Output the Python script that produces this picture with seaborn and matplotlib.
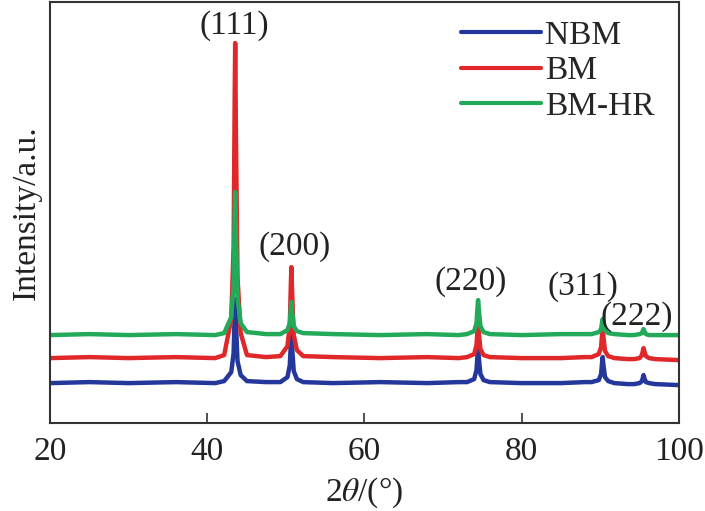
import matplotlib
matplotlib.use("Agg")
import matplotlib.pyplot as plt
import seaborn as sns
import pandas as pd

# ── Data ─────────────────────────────────────────────────────────────────────
two_theta = [20, 25, 30, 36, 41.0,
             42.15, 43.05, 43.35, 43.48, 43.55, 43.65, 43.85, 44.25, 45.05,
             47.5,
             49.3, 50.2, 50.5, 50.63, 50.7, 50.8, 51.0, 51.4, 52.2,
             56, 62, 68, 72,
             73.05, 73.95, 74.25, 74.38, 74.45, 74.55, 74.75, 75.15, 75.95,
             80, 85, 88,
             88.9, 89.8, 90.1, 90.23, 90.3, 90.4, 90.6, 91.0, 91.8,
             93.5,
             94.3, 95.0, 95.3, 95.43, 95.5, 95.6, 95.8, 96.2, 97.0,
             100]

nbm = [40, 41, 40, 41, 40,
       42, 51, 70, 107, 124, 99, 62, 48, 42,
       41,
       41, 46, 58, 80, 90, 75, 52, 44, 41,
       40, 41, 40, 41,
       41, 44, 53, 69, 76, 65, 49, 43, 41,
       40, 40, 41,
       41, 43, 49, 61, 66, 58, 46, 42, 40,
       39,
       39, 40, 42, 46, 48, 45, 41, 40, 39,
       38]

bm = [65, 66, 65, 66, 65,
      68, 104, 176, 317, 380, 286, 145, 90, 68,
      66,
      67, 77, 98, 138, 156, 129, 88, 73, 67,
      66, 65, 66, 65,
      66, 69, 78, 94, 101, 90, 74, 68, 66,
      65, 65, 66,
      66, 69, 76, 89, 95, 86, 72, 67, 65,
      64,
      64, 65, 68, 73, 75, 72, 67, 65, 64,
      63]

bm_hr = [88, 89, 88, 89, 88,
         90, 106, 139, 203, 231, 188, 125, 100, 91,
         89,
         89, 93, 100, 115, 121, 111, 97, 92, 90,
         89, 88, 89, 88,
         89, 92, 100, 116, 123, 113, 97, 91, 89,
         88, 89, 89,
         89, 91, 94, 101, 104, 100, 93, 90, 89,
         88,
         88, 89, 90, 93, 94, 92, 89, 88, 88,
         88]

samples = ["NBM", "BM", "BM-HR"]
colors = ["#24389c", "#e0282a", "#22a95a"]

peak_labels = ["(111)", "(200)", "(220)", "(311)", "(222)"]
label_x = [43.4, 51.1, 73.5, 87.8, 94.6]
label_y = [397, 176, 141, 136, 106]

df = pd.concat([
    pd.DataFrame({"two_theta": two_theta, "intensity": y, "sample": s})
    for s, y in zip(samples, [nbm, bm, bm_hr])
])

# ── Styling ──────────────────────────────────────────────────────────────────
sns.set_theme(style="ticks")
plt.rcParams["font.family"] = ["Liberation Serif", "DejaVu Serif"]
plt.rcParams["mathtext.fontset"] = "stix"

FS = 24
TEXT = "#222222"

fig = plt.figure(figsize=(7.05, 5.11), dpi=100)
ax = fig.add_axes([0.071, 0.172, 0.892, 0.824])

sns.lineplot(data=df, x="two_theta", y="intensity", hue="sample",
             hue_order=samples, palette=colors, linewidth=3.2,
             estimator=None, sort=False, ax=ax)
for line in ax.get_lines():
    line.set_solid_joinstyle("round")

for lab, x, y in zip(peak_labels, label_x, label_y):
    ax.text(x, y, lab, ha="center", va="center", fontsize=FS, color=TEXT)

ax.set_xlim(20, 100)
ax.set_ylim(0, 421)
ax.set_xticks([20, 40, 60, 80, 100])
ax.set_yticks([])
ax.tick_params(axis="x", direction="in", length=7, width=1.2,
               labelsize=FS, pad=10, colors="#333333", labelcolor=TEXT)
for sp in ax.spines.values():
    sp.set_linewidth(1.5)
    sp.set_color("#333333")

ax.set_xlabel(r"2$\theta$/(°)", fontsize=FS, color=TEXT, labelpad=6)
ax.set_ylabel("Intensity/a.u.", fontsize=FS, color=TEXT, labelpad=6)

leg = ax.legend(loc="upper right", bbox_to_anchor=(0.99, 1.0),
                frameon=False, fontsize=FS, handlelength=2.4,
                handletextpad=0.1, labelspacing=0.15, borderaxespad=0.15)
for line in leg.get_lines():
    line.set_linewidth(3)

fig.savefig("out.png", dpi=100)
